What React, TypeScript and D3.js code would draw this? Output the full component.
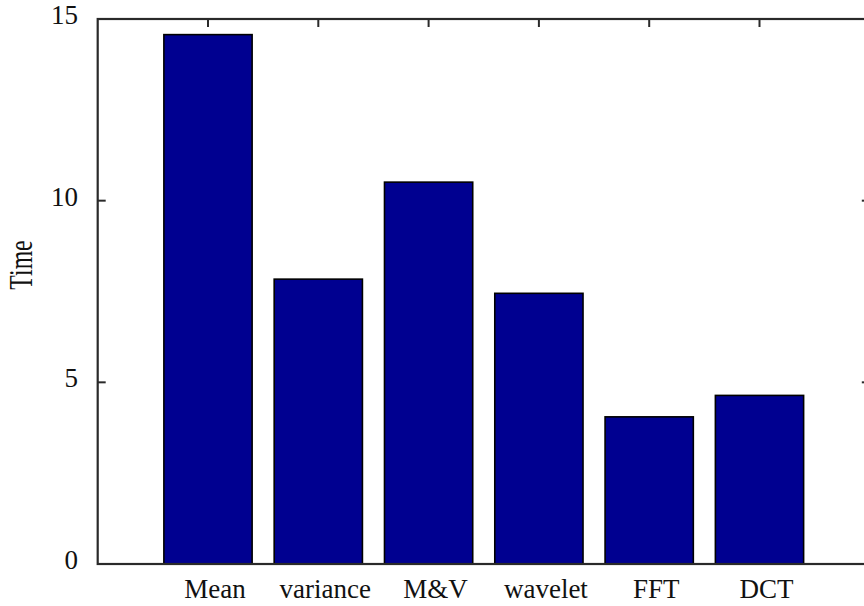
import React from "react";
import * as d3 from "d3";

const categories = ["Mean", "variance", "M&V", "wavelet", "FFT", "DCT"];
const values = [14.57, 7.84, 10.51, 7.45, 4.05, 4.64];
const yTicks = [0, 5, 10, 15];
const yLabel = "Time";

const W = 864;
const H = 606;
const left = 97.7;
const right = 869.8;
const top = 19;
const bottom = 564;

export default function App() {
  const x = d3.scaleLinear().domain([0, categories.length + 1]).range([left, right]);
  const y = d3.scaleLinear().domain([0, 15]).range([bottom, top]);
  const step = x(1) - x(0);
  const bw = step * 0.8;
  const tickLen = 8;
  const font = "'Liberation Serif', 'Times New Roman', serif";

  return (
    <svg
      width={W}
      height={H}
      style={{ position: "absolute", left: 0, top: 0, background: "#fff" }}
    >
      <rect x={0} y={0} width={W} height={H} fill="#fff" />
      {/* bottom ticks (under bars) */}
      {categories.map((c, i) => (
        <line
          key={"bt" + c}
          x1={x(i + 1)}
          x2={x(i + 1)}
          y1={bottom}
          y2={bottom - tickLen}
          stroke="#222"
          strokeWidth={2}
        />
      ))}
      {/* bars */}
      {values.map((v, i) => (
        <rect
          key={"bar" + i}
          x={x(i + 1) - bw / 2}
          y={y(v)}
          width={bw}
          height={y(0) - y(v)}
          fill="#000090"
          stroke="#000"
          strokeWidth={1.6}
        />
      ))}
      {/* axes box */}
      <rect
        x={left}
        y={top}
        width={right - left}
        height={bottom - top}
        fill="none"
        stroke="#2a2a2a"
        strokeWidth={2.2}
      />
      {/* top ticks */}
      {categories.map((c, i) => (
        <line
          key={"tt" + c}
          x1={x(i + 1)}
          x2={x(i + 1)}
          y1={top}
          y2={top + tickLen}
          stroke="#2a2a2a"
          strokeWidth={2}
        />
      ))}
      {/* y ticks left & right */}
      {yTicks.map((t) => (
        <g key={"yt" + t}>
          <line x1={left} x2={left + tickLen} y1={y(t)} y2={y(t)} stroke="#2a2a2a" strokeWidth={2} />
          <line x1={right} x2={right - tickLen} y1={y(t)} y2={y(t)} stroke="#2a2a2a" strokeWidth={2} />
          <text
            x={78}
            y={y(t) + 5}
            textAnchor="end"
            fontFamily={font}
            fontSize={27}
            fill="#111"
          >
            {t}
          </text>
        </g>
      ))}
      {/* x labels */}
      {categories.map((c, i) => (
        <text
          key={"xl" + c}
          x={x(i + 1) + 7}
          y={598}
          textAnchor="middle"
          fontFamily={font}
          fontSize={27}
          fill="#111"
        >
          {c}
        </text>
      ))}
      {/* y label */}
      <text
        transform={`translate(32,265) rotate(-90) scale(0.72,1)`}
        textAnchor="middle"
        fontFamily={font}
        fontSize={33}
        fill="#111"
      >
        {yLabel}
      </text>
    </svg>
  );
}
